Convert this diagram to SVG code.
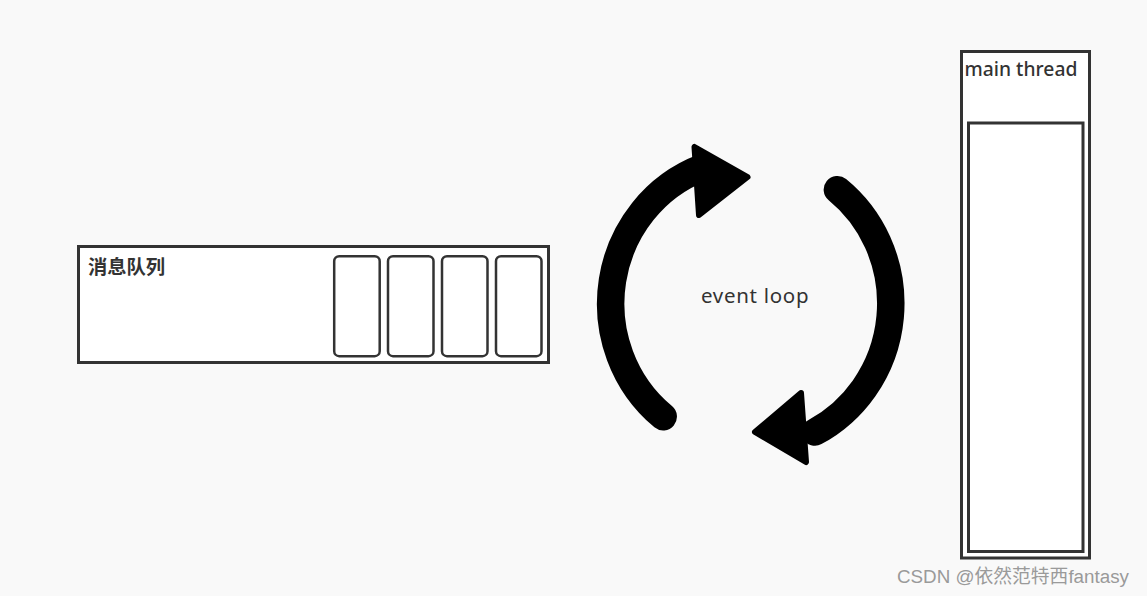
<svg xmlns="http://www.w3.org/2000/svg" width="1147" height="596" viewBox="0 0 1147 596">
  <style>
    .box { fill: #ffffff; stroke: #333333; stroke-width: 3; }
    .slot { fill: #ffffff; stroke: #333333; stroke-width: 2.5; }
    .arc { fill: none; stroke: #000000; stroke-width: 27.5; stroke-linecap: round; }
    .head { fill: #000000; stroke: #000000; stroke-width: 6; stroke-linejoin: round; }
    .label { font-family: "Noto Sans", "Liberation Sans", sans-serif; fill: #333333; }
  </style>
  <rect x="0" y="0" width="1147" height="596" fill="#f9f9f9"/>

  <g id="queue">
    <rect class="box" x="78.5" y="246.5" width="470" height="116"/>
    <text x="88" y="273.5" font-family="'Noto Sans CJK SC', sans-serif" font-weight="bold" font-size="19.3" fill="#333333">消息队列</text>
    <rect class="slot" x="334.2" y="256.2" width="45.5" height="100" rx="5"/>
    <rect class="slot" x="388" y="256.2" width="45.5" height="100" rx="5"/>
    <rect class="slot" x="442" y="256.2" width="45.5" height="100" rx="5"/>
    <rect class="slot" x="496" y="256.2" width="45.5" height="100" rx="5"/>
  </g>

  <g id="main-thread">
    <rect class="box" x="961.5" y="51.5" width="128" height="506.5"/>
    <rect class="box" x="968.5" y="123" width="114.5" height="428.5"/>
    <text class="label" x="964.5" y="76" font-size="19.3" font-weight="500">main thread</text>
  </g>

  <g id="event-loop">
    <path class="arc" d="M 663.2 416.7 A 140.75 145 0 0 1 702.6 167.7"/>
    <path class="arc" d="M 837.4 189.7 A 140.75 145 0 0 1 815 432"/>
    <polygon class="head" points="694.5,147 699,215 747.5,177"/>
    <polygon class="head" points="801,393 755,432 806,462"/>
    <text class="label" x="701" y="303" font-size="20.5" letter-spacing="0.7" fill="#3a3a3a">event loop</text>
  </g>

  <text x="897" y="583" font-family="'Liberation Sans', 'Noto Sans CJK SC', sans-serif" font-size="18.8" fill="#9a9a9a">CSDN @依然范特西fantasy</text>
</svg>
